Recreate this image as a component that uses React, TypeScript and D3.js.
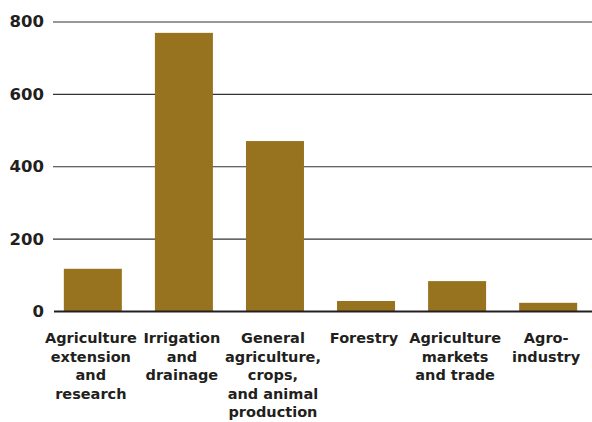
import React from "react";
import * as d3 from "d3";

const categories = [
  "Agriculture extension and research",
  "Irrigation and drainage",
  "General agriculture, crops, and animal production",
  "Forestry",
  "Agriculture markets and trade",
  "Agro-industry",
];
const labelLines = [
  ["Agriculture", "extension", "and", "research"],
  ["Irrigation", "and", "drainage"],
  ["General", "agriculture,", "crops,", "and animal", "production"],
  ["Forestry"],
  ["Agriculture", "markets", "and trade"],
  ["Agro-", "industry"],
];
const values = [118, 770, 471, 29, 84, 24];
const yTicks = [0, 200, 400, 600, 800];

const W = 592;
const H = 422;
const FONT = "'DejaVu Sans', sans-serif";
const BAR = "#98731f";
const INK = "#231f20";

export default function App() {
  const x = d3
    .scaleBand<string>()
    .domain(categories)
    .range([52, 589])
    .paddingInner(0.363)
    .paddingOuter(0.13);
  const y = d3.scaleLinear().domain([0, 800]).range([311.5, 22]);

  return (
    <svg
      width={W}
      height={H}
      style={{ position: "absolute", left: 0, top: 0, background: "#fff" }}
      fontFamily={FONT}
    >
      {yTicks.map((t) => (
        <g key={t}>
          {t !== 0 && (
            <line x1={53} x2={W} y1={y(t)} y2={y(t)} stroke="#333" strokeWidth={1.2} />
          )}
          <text
            x={44}
            y={y(t)}
            dy="0.33em"
            textAnchor="end"
            fontSize={16.5}
            fontWeight="bold"
            fill={INK}
          >
            {t}
          </text>
        </g>
      ))}
      {categories.map((c, i) => (
        <rect
          key={c}
          x={x(c)}
          y={y(values[i])}
          width={x.bandwidth()}
          height={y(0) - y(values[i])}
          fill={BAR}
        />
      ))}
      <line x1={54} x2={W} y1={y(0)} y2={y(0)} stroke={INK} strokeWidth={2.2} />
      {categories.map((c, i) => (
        <text
          key={c}
          x={(x(c) ?? 0) + x.bandwidth() / 2 - 2}
          y={343}
          textAnchor="middle"
          fontSize={14.5}
          fontWeight="bold"
          fill={INK}
        >
          {labelLines[i].map((ln, j) => (
            <tspan key={j} x={(x(c) ?? 0) + x.bandwidth() / 2 - 2} dy={j === 0 ? 0 : 18.5}>
              {ln}
            </tspan>
          ))}
        </text>
      ))}
    </svg>
  );
}
